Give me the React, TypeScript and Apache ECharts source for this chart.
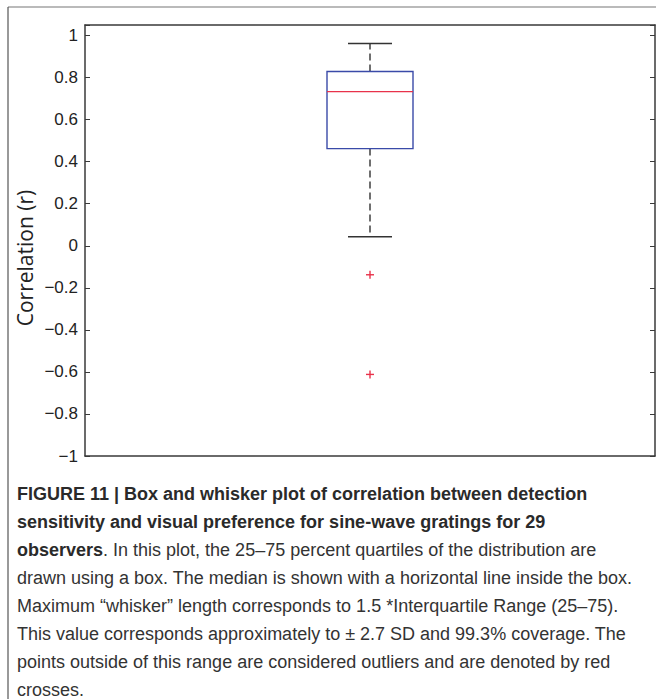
import React, { useEffect, useRef } from "react";
import * as echarts from "echarts";

const categories = [""];
const whiskerLow = [0.043];
const quartile1 = [0.462];
const median = [0.733];
const quartile3 = [0.829];
const whiskerHigh = [0.962];
const outliers = [-0.138, -0.612];
const yMin = -1;
const yMax = 1.05;
const yInterval = 0.2;

const yAxisTitle = "Correlation (r)";
const captionLines: { bold: string; normal: string }[] = [
  { bold: "FIGURE 11 | Box and whisker plot of correlation between detection", normal: "" },
  { bold: "sensitivity and visual preference for sine-wave gratings for 29", normal: "" },
  { bold: "observers", normal: ". In this plot, the 25–75 percent quartiles of the distribution are" },
  { bold: "", normal: "drawn using a box. The median is shown with a horizontal line inside the box." },
  { bold: "", normal: "Maximum “whisker” length corresponds to 1.5 *Interquartile Range (25–75)." },
  { bold: "", normal: "This value corresponds approximately to ± 2.7 SD and 99.3% coverage. The" },
  { bold: "", normal: "points outside of this range are considered outliers and are denoted by red" },
  { bold: "", normal: "crosses." },
];

const fmtTick = (v: number) => {
  if (Math.abs(v - yMax) < 1e-9) return "";
  const r = Math.round(v * 10) / 10;
  if (Math.abs(r) < 1e-9) return "0";
  const s = String(Math.abs(r));
  return r < 0 ? "\u2212" + s : s;
};

export default function App() {
  const ref = useRef<HTMLDivElement>(null);
  useEffect(() => {
    if (!ref.current) return;
    const chart = echarts.init(ref.current, undefined, { renderer: "svg" });
    const boxData = categories.map((_, i) => [i, whiskerLow[i], quartile1[i], median[i], quartile3[i], whiskerHigh[i]]);
    const outlierData = outliers.map((v) => [0, v]);
    const axisColor = "#3a3a3a";
    const labelFont = "Liberation Sans";
    const captionFont = "Liberation Sans";

    const captionGraphics = captionLines.map((ln, i) => ({
      type: "text",
      left: 17,
      top: 496 + i * 28 - 11,
      style: {
        text: (ln.bold ? `{b|${ln.bold}}` : "") + (ln.normal ? `{n|${ln.normal}}` : ""),
        rich: {
          b: { fontFamily: captionFont, fontSize: 18, fontWeight: "bold", fill: "#2a2a2a" },
          n: { fontFamily: captionFont, fontSize: 18, fontWeight: "normal", fill: "#333333" },
        },
      },
    }));

    chart.setOption({
      animation: false,
      backgroundColor: "#ffffff",
      grid: { left: 85, right: 1, top: 25, bottom: 243, containLabel: false },
      xAxis: [
        {
          type: "category",
          data: categories,
          boundaryGap: true,
          axisLine: { show: true, onZero: false, lineStyle: { color: axisColor, width: 1.5 } },
          axisTick: { show: false },
          axisLabel: { show: false },
          splitLine: { show: false },
        },
        {
          type: "category",
          position: "top",
          data: categories,
          axisLine: { show: true, onZero: false, lineStyle: { color: axisColor, width: 1.5 } },
          axisTick: { show: false },
          axisLabel: { show: false },
          splitLine: { show: false },
        },
      ],
      yAxis: [
        {
          type: "value",
          min: yMin,
          max: yMax,
          interval: yInterval,
          axisLine: { show: true, onZero: false, lineStyle: { color: axisColor, width: 1.5 } },
          axisTick: { show: true, inside: true, length: 5, lineStyle: { color: axisColor, width: 1 } },
          axisLabel: {
            formatter: fmtTick,
            fontFamily: labelFont,
            fontSize: 17,
            color: "#222222",
            margin: 7,
          },
          splitLine: { show: false },
        },
        {
          type: "value",
          position: "right",
          min: yMin,
          max: yMax,
          interval: yInterval,
          axisLine: { show: true, onZero: false, lineStyle: { color: axisColor, width: 1.5 } },
          axisTick: { show: true, inside: true, length: 5, lineStyle: { color: axisColor, width: 1 } },
          axisLabel: { show: false },
          splitLine: { show: false },
        },
      ],
      graphic: [
        {
          type: "line",
          shape: { x1: 8, y1: 7, x2: 656, y2: 7 },
          style: { stroke: "#777777", lineWidth: 1.2 },
        },
        {
          type: "line",
          shape: { x1: 8, y1: 7, x2: 8, y2: 699 },
          style: { stroke: "#555555", lineWidth: 1.2 },
        },
        {
          type: "text",
          x: 25,
          y: 258,
          rotation: Math.PI / 2,
          style: {
            text: yAxisTitle,
            fontFamily: "Open Sans",
            fontSize: 21,
            fill: "#222222",
            align: "center",
            verticalAlign: "middle",
          },
        },
        ...captionGraphics,
      ],
      series: [
        {
          type: "custom",
          xAxisIndex: 0,
          yAxisIndex: 0,
          data: boxData,
          renderItem: (params: any, api: any) => {
            const xi = api.value(0);
            const pLow = api.coord([xi, api.value(1)]);
            const pQ1 = api.coord([xi, api.value(2)]);
            const pMed = api.coord([xi, api.value(3)]);
            const pQ3 = api.coord([xi, api.value(4)]);
            const pHigh = api.coord([xi, api.value(5)]);
            const cx = pMed[0];
            const halfBox = 43;
            const halfCap = 22;
            const whisk = { stroke: "#222222", lineWidth: 1.3, lineDash: [7, 4] };
            const cap = { stroke: "#333333", lineWidth: 1.6 };
            return {
              type: "group",
              children: [
                { type: "line", shape: { x1: cx, y1: pQ1[1], x2: cx, y2: pLow[1] }, style: whisk },
                { type: "line", shape: { x1: cx, y1: pQ3[1], x2: cx, y2: pHigh[1] }, style: whisk },
                { type: "line", shape: { x1: cx - halfCap, y1: pLow[1], x2: cx + halfCap, y2: pLow[1] }, style: cap },
                { type: "line", shape: { x1: cx - halfCap, y1: pHigh[1], x2: cx + halfCap, y2: pHigh[1] }, style: cap },
                {
                  type: "rect",
                  shape: { x: cx - halfBox, y: pQ3[1], width: halfBox * 2, height: pQ1[1] - pQ3[1] },
                  style: { fill: "none", stroke: "#3a4aa8", lineWidth: 1.4 },
                },
                {
                  type: "line",
                  shape: { x1: cx - halfBox, y1: pMed[1], x2: cx + halfBox, y2: pMed[1] },
                  style: { stroke: "#e8324a", lineWidth: 1.4 },
                },
              ],
            };
          },
        },
        {
          type: "custom",
          xAxisIndex: 0,
          yAxisIndex: 0,
          data: outlierData,
          renderItem: (params: any, api: any) => {
            const p = api.coord([api.value(0), api.value(1)]);
            const h = 4;
            const st = { stroke: "#e8324a", lineWidth: 1.4 };
            return {
              type: "group",
              children: [
                { type: "line", shape: { x1: p[0] - h, y1: p[1], x2: p[0] + h, y2: p[1] }, style: st },
                { type: "line", shape: { x1: p[0], y1: p[1] - h, x2: p[0], y2: p[1] + h }, style: st },
              ],
            };
          },
        },
      ],
    });
    return () => chart.dispose();
  }, []);
  return (
    <div
      ref={ref}
      style={{ position: "absolute", left: 0, top: 0, width: 656, height: 699, background: "#fff" }}
    />
  );
}
